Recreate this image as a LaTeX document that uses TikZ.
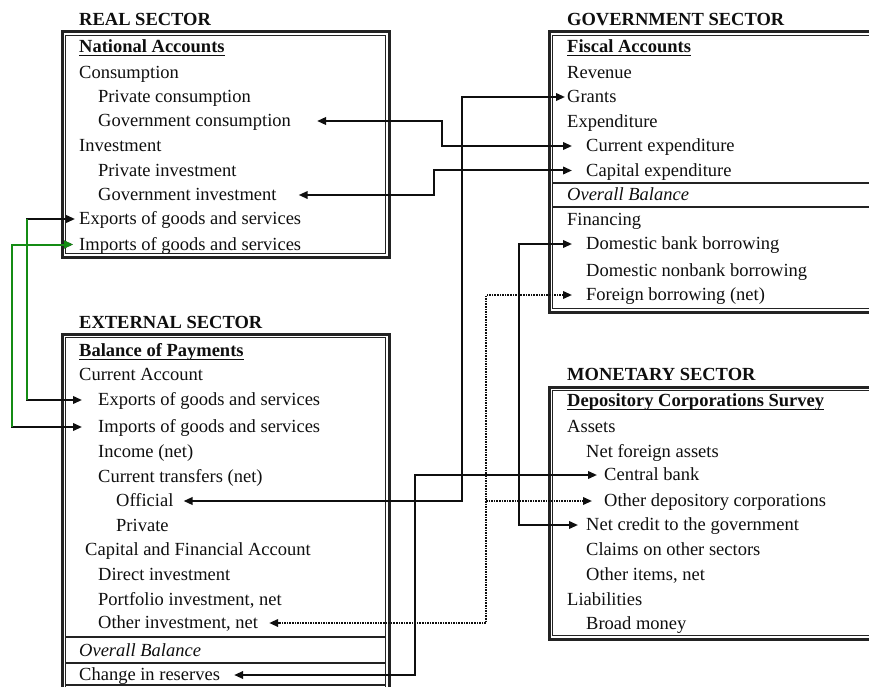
\documentclass[tikz,border=0pt]{standalone}
\usepackage{fontspec}
\setmainfont{Liberation Serif}
\usetikzlibrary{arrows.meta,calc}
\definecolor{ink}{RGB}{15,15,15}
\definecolor{bordc}{RGB}{35,35,35}
\definecolor{grn}{RGB}{20,140,20}
\newcommand\myul[1]{\setbox0\hbox{#1}\rlap{\rule[-3.8pt]{\wd0}{1.5pt}}\box0}
\begin{document}
\begin{tikzpicture}[x=1pt,y=-1pt,
  txt/.style={anchor=west,inner sep=0pt,text height=13.9pt,text depth=2.8pt,font=\fontsize{18.5}{22}\selectfont,text=ink},
  ttl/.style={txt,font=\fontsize{18.5}{22}\selectfont\bfseries},
  outerb/.style={draw=bordc,line width=3pt},
  innerb/.style={draw=bordc,line width=1.2pt},
  sepline/.style={draw=bordc,line width=1.6pt},
  con/.style={draw=ink,line width=2pt,line join=miter},
  dotline/.style={dash pattern=on 1.6pt off 1pt},
  >={Triangle[length=9pt,width=7.5pt]}]
\useasboundingbox (0,0) rectangle (869,687);
\clip (0,0) rectangle (869,687);
\fill[white] (0,0) rectangle (869,687);
% boxes
\draw[outerb] (62,32) rectangle (389,257);
\draw[innerb] (65.8,35.8) rectangle (385.2,253.2);
\draw[outerb] (549,32) rectangle (900,312);
\draw[innerb] (552.8,35.8) rectangle (900,308.2);
\draw[sepline] (552,183) -- (900,183);
\draw[sepline] (552,207) -- (900,207);
\draw[outerb] (62,334) rectangle (389,700);
\draw[innerb] (65.8,337.8) rectangle (385.2,700);
\draw[sepline] (65,637) -- (386,637);
\draw[sepline] (65,663) -- (386,663);
\draw[sepline] (65,685) -- (386,685);
\draw[outerb] (549,387) rectangle (900,639);
\draw[innerb] (552.8,390.8) rectangle (900,635.2);
% real sector
\node[ttl] (rtitle) at (79,20) {REAL SECTOR};
\node[ttl] (rh) at (79,47) {\myul{National Accounts}};
\node[txt] (r1) at (79,72.5) {Consumption};
\node[txt] (r2) at (98,97) {Private consumption};
\node[txt] (r3) at (98,121) {Government consumption};
\node[txt] (r4) at (79,146) {Investment};
\node[txt] (r5) at (98,170.5) {Private investment};
\node[txt] (r6) at (98,195) {Government investment};
\node[txt] (r7) at (79,219) {Exports of goods and services};
\node[txt] (r8) at (79,244.5) {Imports of goods and services};
% government sector
\node[ttl] (gtitle) at (567,20) {GOVERNMENT SECTOR};
\node[ttl] (gh) at (567,47) {\myul{Fiscal Accounts}};
\node[txt] (g1) at (567,72.5) {Revenue};
\node[txt] (g2) at (567,97) {Grants};
\node[txt] (g3) at (567,121.5) {Expenditure};
\node[txt] (g4) at (586,146) {Current expenditure};
\node[txt] (g5) at (586,170.5) {Capital expenditure};
\node[txt] (g6) at (567,195) {\itshape Overall Balance};
\node[txt] (g7) at (567,220) {Financing};
\node[txt] (g8) at (586,244) {Domestic bank borrowing};
\node[txt] (g9) at (586,270.5) {Domestic nonbank borrowing};
\node[txt] (g10) at (586,295) {Foreign borrowing (net)};
% external sector
\node[ttl] (etitle) at (79,323) {EXTERNAL SECTOR};
\node[ttl] (eh) at (79,351) {\myul{Balance of Payments}};
\node[txt] (e1) at (79,375) {Current Account};
\node[txt] (e2) at (98,400) {Exports of goods and services};
\node[txt] (e3) at (98,427) {Imports of goods and services};
\node[txt] (e4) at (98,452) {Income (net)};
\node[txt] (e5) at (98,477) {Current transfers (net)};
\node[txt] (e6) at (116,501) {Official};
\node[txt] (e7) at (116,526) {Private};
\node[txt] (e8) at (85,550) {Capital and Financial Account};
\node[txt] (e9) at (98,575) {Direct investment};
\node[txt] (e10) at (98,600) {Portfolio investment, net};
\node[txt] (e11) at (98,623) {Other investment, net};
\node[txt] (e12) at (79,651) {\itshape Overall Balance};
\node[txt] (e13) at (79,675) {Change in reserves};
% monetary sector
\node[ttl] (mtitle) at (567,375) {MONETARY SECTOR};
\node[ttl] (mh) at (567,401) {\myul{Depository Corporations Survey}};
\node[txt] (m1) at (567,427) {Assets};
\node[txt] (m2) at (586,452) {Net foreign assets};
\node[txt] (m3) at (604,475) {Central bank};
\node[txt] (m4) at (604,501) {Other depository corporations};
\node[txt] (m5) at (586,525) {Net credit to the government};
\node[txt] (m6) at (586,550) {Claims on other sectors};
\node[txt] (m7) at (586,575) {Other items, net};
\node[txt] (m8) at (567,600) {Liabilities};
\node[txt] (m9) at (586,624) {Broad money};
% junction columns
\coordinate (j1) at (442,0);
\coordinate (j2) at (434,0);
\coordinate (j3) at (27,0);
\coordinate (j4) at (12,0);
\coordinate (j5) at (462,0);
\coordinate (j6) at (415,0);
\coordinate (j7) at (519,0);
\coordinate (j8) at (486,0);
% connectors
\draw[con,<->] ([xshift=26pt]r3.east) -- (r3.east -| j1) -- (g4.west -| j1) -- ([xshift=-14pt]g4.west);
\draw[con,<->] ([xshift=22pt]r6.east) -- (r6.east -| j2) -- (g5.west -| j2) -- ([xshift=-14pt]g5.west);
\draw[con,<->] ([xshift=-4pt]r7.west) -- (r7.west -| j3) -- (e2.west -| j3) -- ([xshift=-16pt]e2.west);
\draw[con,draw=grn] (r7.west -| j3) -- (e2.west -| j3);
\draw[con,<->] ([xshift=-6pt]r8.west) -- (r8.west -| j4) -- (e3.west -| j4) -- ([xshift=-16pt]e3.west);
\draw[con,draw=grn,<-] ([xshift=-6pt]r8.west) -- (r8.west -| j4) -- (e3.west -| j4);
\draw[con,<->] ([xshift=10pt]e6.east) -- (e6.east -| j5) -- (g2.west -| j5) -- ([xshift=-2pt]g2.west);
\draw[con,<->] ([xshift=14pt]e13.east) -- (e13.east -| j6) -- (m3.west -| j6) -- ([xshift=-7pt]m3.west);
\draw[con,<->] ([xshift=-14pt]g8.west) -- (g8.west -| j7) -- (m5.west -| j7) -- ([xshift=-8pt]m5.west);
\draw[con,dotline,<->] ([xshift=-14pt]g10.west) -- (g10.west -| j8) -- (e11.east -| j8) -- ([xshift=11pt]e11.east);
\draw[con,dotline,->] (m4.west -| j8) -- ([xshift=-12pt]m4.west);
\end{tikzpicture}
\end{document}
